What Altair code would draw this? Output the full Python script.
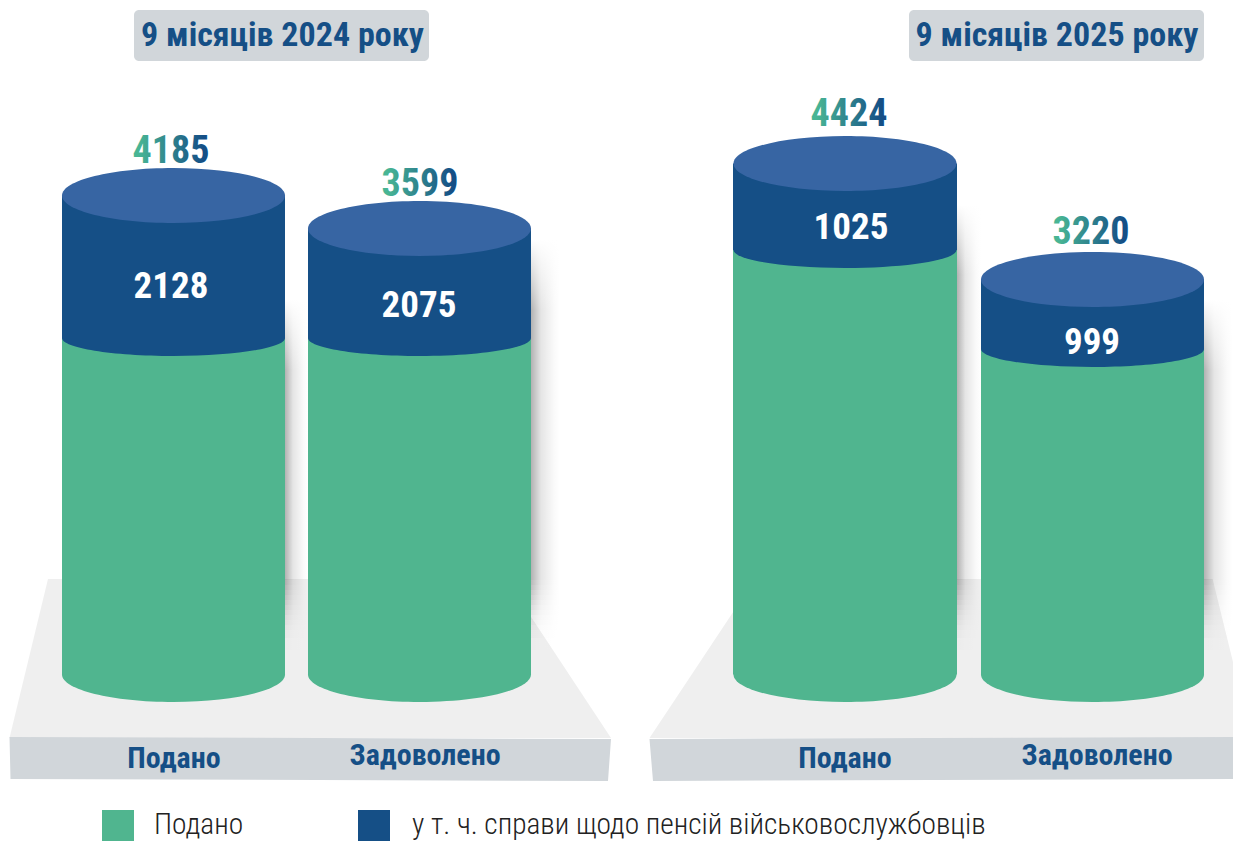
import altair as alt
import pandas as pd

GREEN = "#50b58f"
DARK = "#154f86"
CAP = "#3765a3"
SLAB = "#d1d6da"
DECK = "#efefef"
FONT = "'Roboto Condensed', 'DejaVu Sans Condensed', sans-serif"

# values as printed
totals = ["4185", "3599", "4424", "3220"]
subset = ["2128", "2075", "1025", "999"]
# cylinder geometry (picture units)
left = [62, 308, 733, 981]
right = [285, 531, 957, 1204]
top_level = [195.5, 228.5, 163.5, 279.5]
split_level = [338, 338, 250, 349]
base_level = [674.5, 674.5, 674.5, 674.5]
shadow_from = [300, 240, 205, 300]
shadow_to = [308, 560, 981, 1233]
total_x = [171, 420, 849, 1091]
total_y = [152, 185, 115, 233]
subset_y = [287, 306, 228, 343]
subset_x = [171, 419, 851, 1092]

pill_x = [134, 909]
pill_x2 = [429, 1204]
titles = ["9 місяців 2024 року", "9 місяців 2025 року"]
title_x = [282.5, 1057]

cat_labels = ["Подано", "Задоволено", "Подано", "Задоволено"]
cat_x = [174, 425, 845, 1097]
cat_y = [759, 756, 759, 756]

legend_x = [102, 358]
legend_x2 = [134, 390]
legend_colors = [GREEN, DARK]
legend_text = ["Подано", "у т. ч. справи щодо пенсій військовослужбовців"]
legend_text_x = [154, 412]

fade_from = [580, 585, 590, 595, 600, 605, 610, 615, 620, 625, 630, 638]
fade_to = [585, 590, 595, 600, 605, 610, 615, 620, 625, 630, 638, 650]
fade_op = [0.92, 0.84, 0.75, 0.66, 0.57, 0.48, 0.39, 0.31, 0.24, 0.17, 0.11, 0.05]

X = alt.Scale(domain=[8, 1233], range=[0, 1225], nice=False, zero=False)
Y = alt.Scale(domain=[8, 841], range=[0, 833], nice=False, zero=False)
def xe(f): return alt.X(f, type="quantitative", scale=X, axis=None)
def ye(f): return alt.Y(f, type="quantitative", scale=Y, axis=None)
def x2e(f): return alt.X2(f)
def y2e(f): return alt.Y2(f)

def deck(ys, xs, x2s):
    return alt.Chart(pd.DataFrame({"y": ys, "x": xs, "x2": x2s})).mark_area(
        orient="horizontal", color=DECK, interpolate="linear"
    ).encode(y=ye("y"), x=xe("x"), x2=x2e("x2"))

def slab(xs, ys, y2s):
    return alt.Chart(pd.DataFrame({"x": xs, "y": ys, "y2": y2s})).mark_area(
        orient="vertical", color=SLAB, interpolate="linear"
    ).encode(x=xe("x"), y=ye("y"), y2=y2e("y2"))

layers = [
    deck([579, 738], [48, 9.5], [506, 611]),
    deck([579, 662, 738], [755, 700, 649.5], [1212.6, 1233, 1233]),
    slab([9.5, 10.5, 608, 611], [737, 737, 739, 739], [737, 779, 781, 739]),
    slab([649.5, 653, 1233], [739, 739, 737], [739, 781, 779]),
]

# soft shadows on the right of the cylinders
shadow_fill = alt.Gradient(gradient="linear", x1=0, x2=1, y1=0, y2=0, stops=[
    alt.GradientStop(color="rgba(0,0,0,0.30)", offset=0),
    alt.GradientStop(color="rgba(0,0,0,0.10)", offset=0.35),
    alt.GradientStop(color="rgba(0,0,0,0.02)", offset=0.8),
    alt.GradientStop(color="rgba(0,0,0,0)", offset=1),
])
rows = []
for r, s0, s1 in zip(right, shadow_from, shadow_to):
    w = min(s1, r + 32)
    rows.append({"x": r, "x2": w, "y": s0, "y2": 580, "o": 1})
    for a, b, o in zip(fade_from, fade_to, fade_op):
        rows.append({"x": r, "x2": w, "y": a, "y2": b, "o": o})
layers.append(alt.Chart(pd.DataFrame(rows)).mark_rect(fill=shadow_fill).encode(
    x=xe("x"), x2=x2e("x2"), y=ye("y"), y2=y2e("y2"),
    opacity=alt.Opacity("o:Q", scale=None)))

white_fill = alt.Gradient(gradient="linear", x1=0, x2=0, y1=0, y2=1, stops=[
    alt.GradientStop(color="rgba(255,255,255,1)", offset=0),
    alt.GradientStop(color="rgba(255,255,255,0)", offset=1),
])
layers.append(alt.Chart(pd.DataFrame({
    "x": right, "x2": [min(a, b + 32) for a, b in zip(shadow_to, right)],
    "y": shadow_from, "y2": [v + 70 for v in shadow_from],
})).mark_rect(fill=white_fill).encode(x=xe("x"), x2=x2e("x2"), y=ye("y"), y2=y2e("y2")))

# cylinders
C = 0.5523
def ellipse_path(K):
    return (f"M-1,0 C-1,{-K*C:.4f} {-C},{-K} 0,{-K} C{C},{-K} 1,{-K*C:.4f} 1,0 "
            f"C1,{K*C:.4f} {C},{K} 0,{K} C{-C},{K} -1,{K*C:.4f} -1,0 Z")
cyl = pd.DataFrame({
    "x": left, "x2": right, "cx": [(a + b) / 2 for a, b in zip(left, right)],
    "top": top_level, "split": split_level, "base": base_level,
})
def ellipse(field, color, K):
    return alt.Chart(cyl).mark_point(shape=ellipse_path(K), size=223 ** 2, filled=True, fill=color,
                                     opacity=1, strokeWidth=0).encode(x=xe("cx"), y=ye(field))
def body(y, y2, color):
    return alt.Chart(cyl).mark_rect(color=color).encode(
        x=xe("x"), x2=x2e("x2"), y=ye(y), y2=y2e(y2))

layers += [
    ellipse("base", GREEN, 0.2466), body("split", "base", GREEN),
    ellipse("split", DARK, 0.1614), body("top", "split", DARK),
    ellipse("top", CAP, 0.2466),
]

# title pills
layers.append(alt.Chart(pd.DataFrame({"x": pill_x, "x2": pill_x2})).mark_rect(
    color=SLAB, cornerRadius=5).encode(
    x=xe("x"), x2=x2e("x2"), y=alt.value(2), y2=alt.value(53)))
layers.append(alt.Chart(pd.DataFrame({"x": title_x, "t": titles})).mark_text(
    font=FONT, fontWeight="bold", fontSize=34, color=DARK, baseline="middle", align="center"
).encode(x=xe("x"), y=alt.value(28), text="t:N"))

# value labels
text_fill = alt.Gradient(gradient="linear", x1=0, x2=1, y1=0, y2=0, stops=[
    alt.GradientStop(color="#48b594", offset=0.08),
    alt.GradientStop(color=DARK, offset=0.92),
])
layers.append(alt.Chart(pd.DataFrame({"x": total_x, "y": total_y, "t": totals})).mark_text(
    font=FONT, fontWeight="bold", fontSize=38, fill=text_fill, baseline="middle", align="center"
).encode(x=xe("x"), y=ye("y"), text="t:N"))
layers.append(alt.Chart(pd.DataFrame({"x": subset_x, "y": subset_y, "t": subset})).mark_text(
    font=FONT, fontWeight="bold", fontSize=37, color="white", baseline="middle", align="center"
).encode(x=xe("x"), y=ye("y"), text="t:N"))

# category labels on the slab
layers.append(alt.Chart(pd.DataFrame({"x": cat_x, "y": cat_y, "t": cat_labels})).mark_text(
    font=FONT, fontWeight="bold", fontSize=30, color=DARK, baseline="middle", align="center"
).encode(x=xe("x"), y=ye("y"), text="t:N"))

# legend
layers.append(alt.Chart(pd.DataFrame({"x": legend_x, "x2": legend_x2, "c": legend_colors})).mark_rect().encode(
    x=xe("x"), x2=x2e("x2"), y=alt.value(802), y2=alt.value(833),
    color=alt.Color("c:N", scale=None)))
layers.append(alt.Chart(pd.DataFrame({"x": legend_text_x, "t": legend_text})).mark_text(
    font=FONT, fontWeight=300, fontSize=29.4, color="#222222", baseline="middle", align="left"
).encode(x=xe("x"), y=alt.value(816.5), text="t:N"))

chart = alt.layer(*layers).properties(
    width=1225, height=833, padding=0, autosize=alt.AutoSizeParams(type="none"),
    background="white",
).configure_view(stroke=None)

chart.save("out.html", embed_options={"renderer": "svg", "actions": False})
